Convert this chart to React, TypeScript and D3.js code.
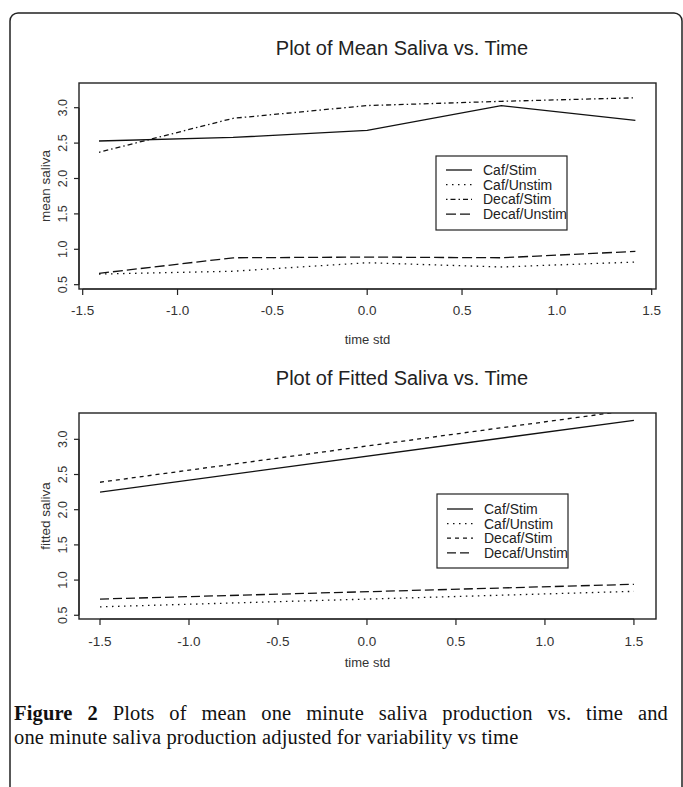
import React, { useLayoutEffect, useRef, useState } from "react";
import * as d3 from "d3";

// ---------- data ----------
const seriesNames = ["Caf/Stim", "Caf/Unstim", "Decaf/Stim", "Decaf/Unstim"];

const timeMean = [-1.414, -0.707, 0, 0.707, 1.414];
const meanCafStim = [2.53, 2.58, 2.68, 3.03, 2.82];
const meanCafUnstim = [0.65, 0.69, 0.81, 0.75, 0.82];
const meanDecafStim = [2.37, 2.85, 3.03, 3.09, 3.14];
const meanDecafUnstim = [0.66, 0.88, 0.89, 0.88, 0.97];

const timeFit = [-1.5, 1.5];
const fitCafStim = [2.25, 3.27];
const fitCafUnstim = [0.62, 0.84];
const fitDecafStim = [2.39, 3.42];
const fitDecafUnstim = [0.73, 0.94];

const xTicks = [-1.5, -1.0, -0.5, 0.0, 0.5, 1.0, 1.5];
const yTicks = [0.5, 1.0, 1.5, 2.0, 2.5, 3.0];

const titleTop = "Plot of Mean Saliva vs. Time";
const titleBottom = "Plot of Fitted Saliva vs. Time";
const yLabelTop = "mean saliva";
const yLabelBottom = "fitted saliva";
const xLabel = "time std";
const captionBold = "Figure 2";
const captionLine1 = " Plots of mean one minute saliva production vs. time and";
const captionLine2 = "one minute saliva production adjusted for variability vs time";

const FONT = "Arial, 'Liberation Sans', Helvetica, sans-serif";
const SERIF = "'Liberation Serif', 'Times New Roman', serif";
const INK = "#222";

type PanelProps = {
  xs: number[];
  series: number[][];
  dashes: string[];
  xDomain: [number, number];
  yDomain: [number, number];
  box: { x0: number; x1: number; y0: number; y1: number };
  title: string;
  titleY: number;
  yLabel: string;
  xTickY: number;
  xLabelY: number;
  legend: { x0: number; x1: number; y0: number; y1: number; rowY: number; rowH: number };
  id: string;
};

function Panel(p: PanelProps) {
  const { box } = p;
  const x = d3.scaleLinear().domain(p.xDomain).range([box.x0, box.x1]);
  const y = d3.scaleLinear().domain(p.yDomain).range([box.y1, box.y0]);
  const line = d3
    .line<[number, number]>()
    .x((d) => x(d[0]))
    .y((d) => y(d[1]));
  const yMid = (box.y0 + box.y1) / 2;
  const yTickX = box.x0 - 16;
  return (
    <g>
      <defs>
        <clipPath id={p.id}>
          <rect x={box.x0} y={box.y0} width={box.x1 - box.x0} height={box.y1 - box.y0} />
        </clipPath>
      </defs>
      <text x={402} y={p.titleY} textAnchor="middle" fontFamily={FONT} fontSize={20} fill={INK}>
        {p.title}
      </text>
      <g clipPath={`url(#${p.id})`}>
        {p.series.map((vals, i) => (
          <path
            key={i}
            d={line(p.xs.map((t, j) => [t, vals[j]] as [number, number])) || ""}
            fill="none"
            stroke="#111"
            strokeWidth={1.3}
            strokeDasharray={p.dashes[i]}
          />
        ))}
      </g>
      <rect
        x={box.x0}
        y={box.y0}
        width={box.x1 - box.x0}
        height={box.y1 - box.y0}
        fill="none"
        stroke={INK}
        strokeWidth={1.4}
      />
      {/* x axis */}
      <line x1={x(xTicks[0])} x2={x(xTicks[xTicks.length - 1])} y1={box.y1} y2={box.y1} stroke={INK} strokeWidth={1.2} />
      {xTicks.map((t) => (
        <g key={t}>
          <line x1={x(t)} x2={x(t)} y1={box.y1} y2={box.y1 + 6} stroke={INK} strokeWidth={1.2} />
          <text x={x(t)} y={p.xTickY} textAnchor="middle" fontFamily={FONT} fontSize={13.5} fill="#333">
            {t.toFixed(1)}
          </text>
        </g>
      ))}
      <text x={(box.x0 + box.x1) / 2} y={p.xLabelY} textAnchor="middle" fontFamily={FONT} fontSize={13} fill="#333">
        {xLabel}
      </text>
      {/* y axis */}
      <line x1={box.x0} x2={box.x0} y1={y(yTicks[0])} y2={y(yTicks[yTicks.length - 1])} stroke={INK} strokeWidth={1.2} />
      {yTicks.map((t) => (
        <g key={t}>
          <line x1={box.x0 - 5} x2={box.x0} y1={y(t)} y2={y(t)} stroke={INK} strokeWidth={1.2} />
          <text
            transform={`translate(${yTickX},${y(t)}) rotate(-90)`}
            textAnchor="middle"
            dy="0.35em"
            fontFamily={FONT}
            fontSize={12.5}
            fill="#333"
          >
            {t.toFixed(1)}
          </text>
        </g>
      ))}
      <text
        transform={`translate(${box.x0 - 34},${yMid}) rotate(-90)`}
        textAnchor="middle"
        dy="0.35em"
        fontFamily={FONT}
        fontSize={13.5}
        fill="#333"
      >
        {p.yLabel}
      </text>
      {/* legend */}
      <rect
        x={p.legend.x0}
        y={p.legend.y0}
        width={p.legend.x1 - p.legend.x0}
        height={p.legend.y1 - p.legend.y0}
        fill="#fff"
        stroke={INK}
        strokeWidth={1.2}
      />
      {seriesNames.map((name, i) => {
        const ry = p.legend.rowY + i * p.legend.rowH;
        return (
          <g key={name}>
            <line
              x1={p.legend.x0 + 10}
              x2={p.legend.x0 + 36}
              y1={ry}
              y2={ry}
              stroke="#111"
              strokeWidth={1.3}
              strokeDasharray={p.dashes[i]}
            />
            <text x={p.legend.x0 + 47} y={ry} dy="0.35em" fontFamily={FONT} fontSize={14} fill="#222">
              {name}
            </text>
          </g>
        );
      })}
    </g>
  );
}

export default function App() {
  const line1Ref = useRef<SVGTextElement>(null);
  const [wordSpacing, setWordSpacing] = useState(0);
  useLayoutEffect(() => {
    if (line1Ref.current) {
      const len = line1Ref.current.getComputedTextLength();
      setWordSpacing(Math.max(0, (654 - len) / 11));
    }
  }, []);

  const dashesTop = ["none", "1.5 4.5", "1.5 3 5 3", "10 4"];
  const dashesBottom = ["none", "1.5 4.5", "4 4", "9 4"];

  return (
    <svg
      width={683}
      height={787}
      viewBox="0 0 683 787"
      style={{ position: "absolute", left: 0, top: 0, display: "block", background: "#fff" }}
    >
      <rect x={0} y={0} width={683} height={787} fill="#fff" />
      <path d="M10,800 L10,21 A8,8 0 0 1 18,13 L674,13 A8,8 0 0 1 682,21 L682,800" fill="none" stroke={INK} strokeWidth={1.5} />
      <Panel
        id="clipTop"
        xs={timeMean}
        series={[meanCafStim, meanCafUnstim, meanDecafStim, meanDecafUnstim]}
        dashes={dashesTop}
        xDomain={[-1.5195, 1.5227]}
        yDomain={[0.439, 3.349]}
        box={{ x0: 79, x1: 656, y0: 83, y1: 289 }}
        title={titleTop}
        titleY={55}
        yLabel={yLabelTop}
        xTickY={315}
        xLabelY={344}
        legend={{ x0: 436, x1: 567, y0: 156, y1: 230, rowY: 170, rowH: 14.7 }}
      />
      <Panel
        id="clipBottom"
        xs={timeFit}
        series={[fitCafStim, fitCafUnstim, fitDecafStim, fitDecafUnstim]}
        dashes={dashesBottom}
        xDomain={[-1.618, 1.624]}
        yDomain={[0.447, 3.374]}
        box={{ x0: 79, x1: 656, y0: 413, y1: 619 }}
        title={titleBottom}
        titleY={385}
        yLabel={yLabelBottom}
        xTickY={646}
        xLabelY={667}
        legend={{ x0: 437, x1: 568, y0: 494, y1: 568, rowY: 509, rowH: 14.6 }}
      />
      <text
        ref={line1Ref}
        x={14}
        y={720}
        fontFamily={SERIF}
        fontSize={20.5}
        letterSpacing={0.15}
        fill="#111"
        wordSpacing={wordSpacing}
        style={{ whiteSpace: "pre" }}
      >
        <tspan fontWeight="bold">{captionBold}</tspan>
        {captionLine1}
      </text>
      <text x={14} y={744} fontFamily={SERIF} fontSize={20.5} letterSpacing={0.15} fill="#111">
        {captionLine2}
      </text>
    </svg>
  );
}
